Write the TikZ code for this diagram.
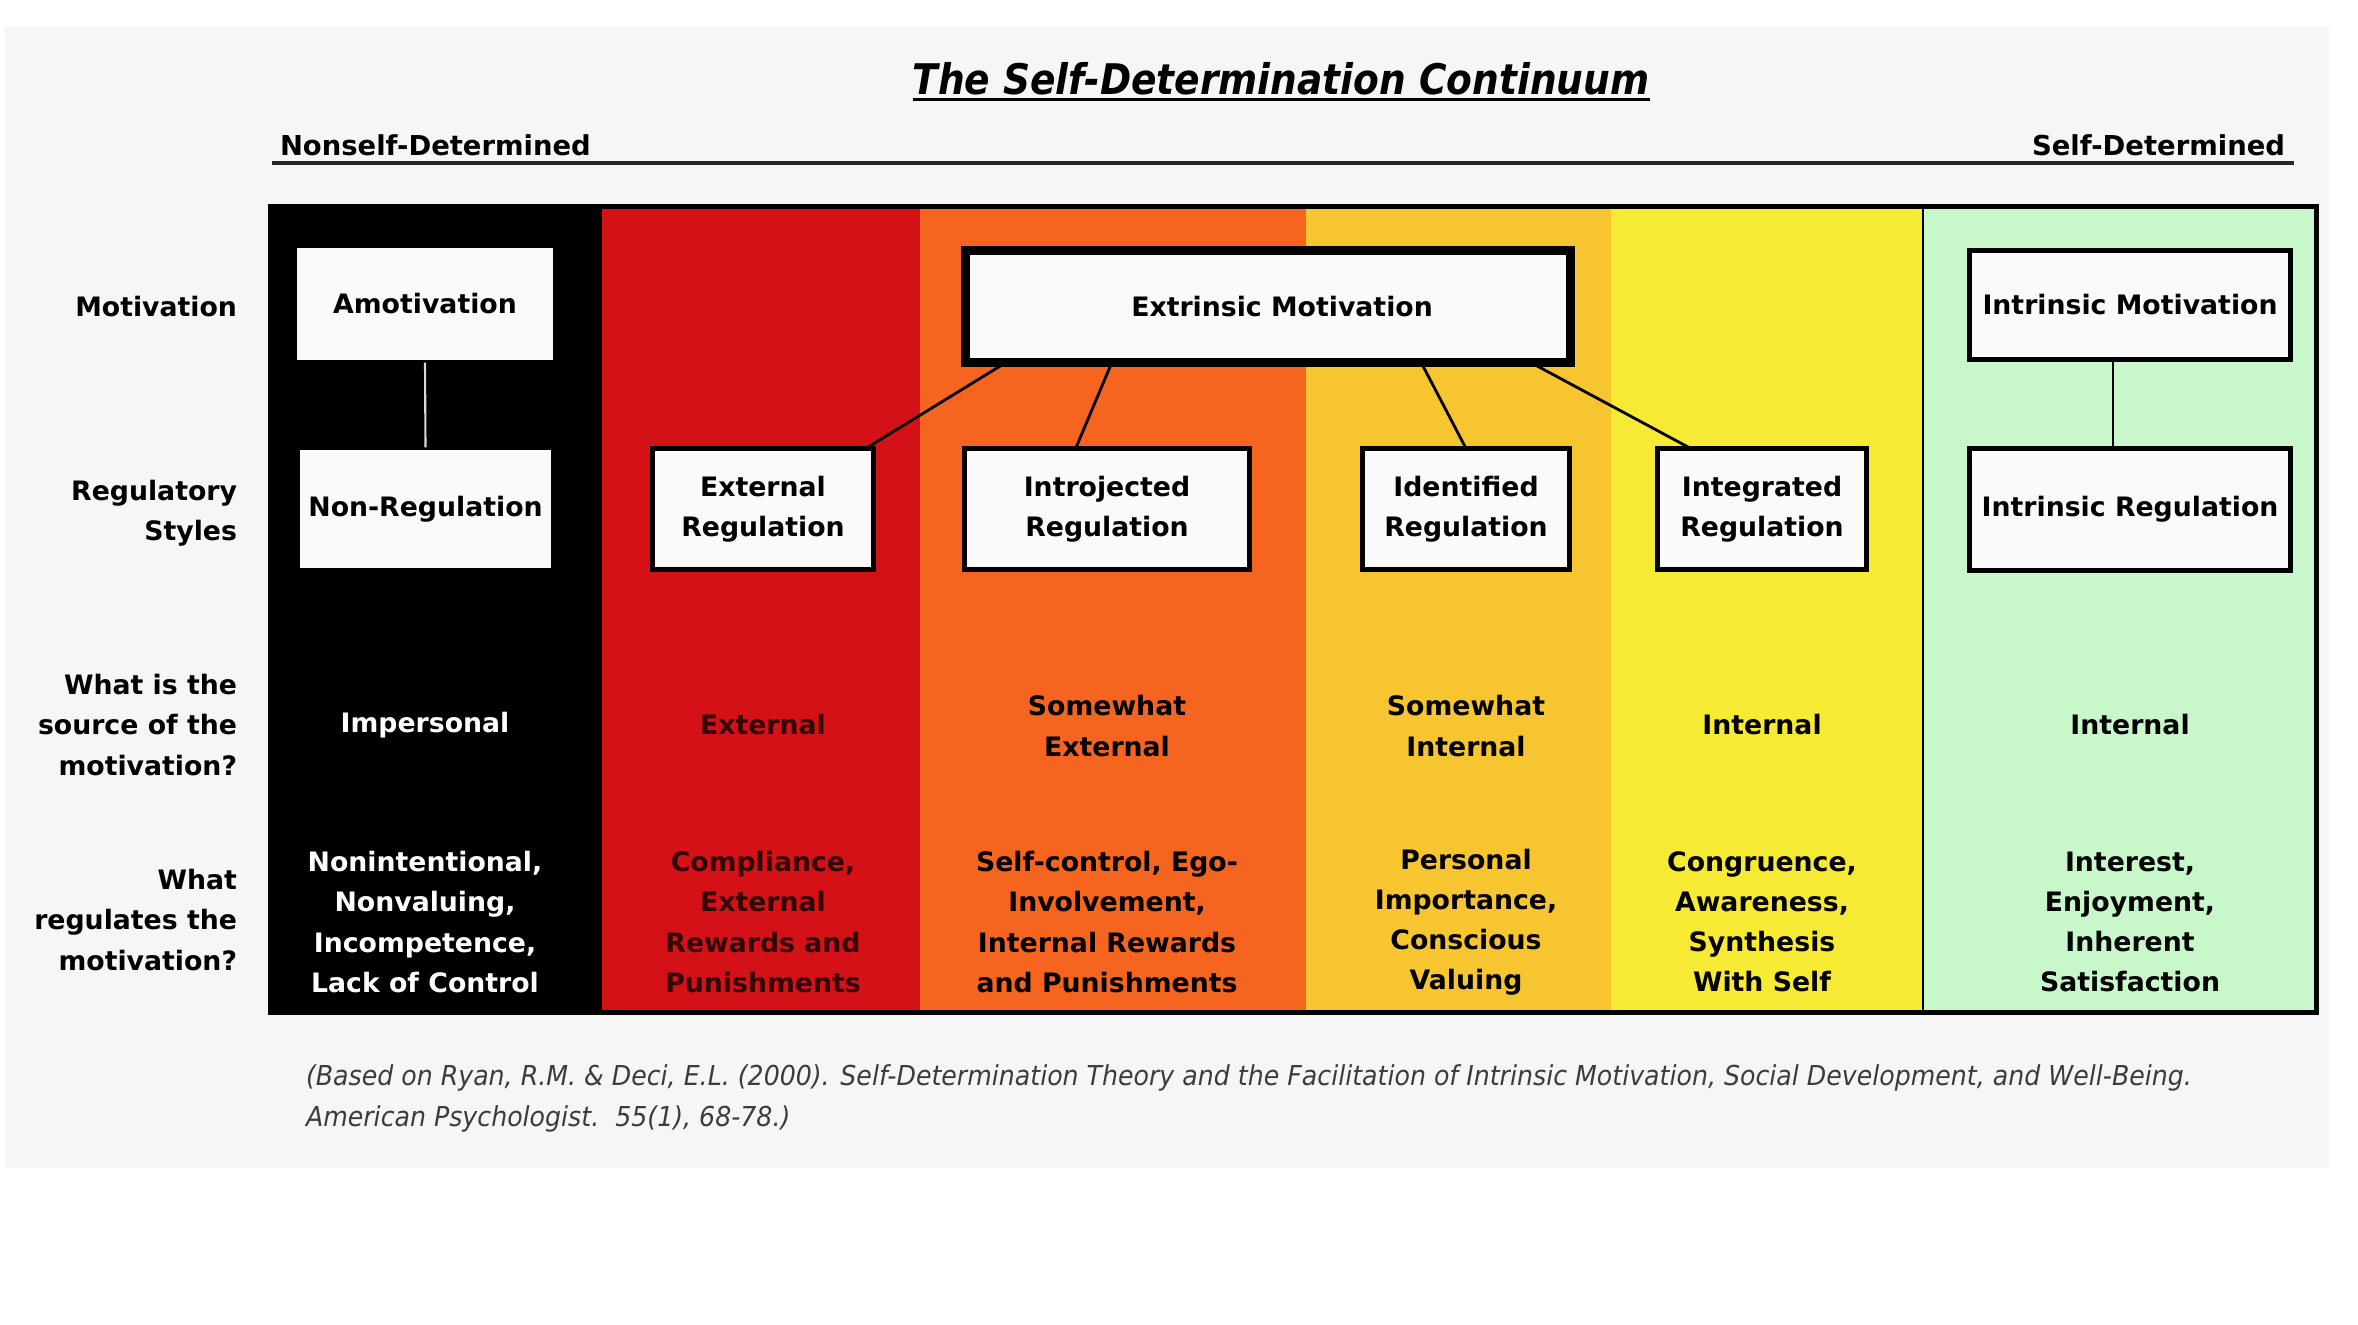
\documentclass[tikz,border=0pt]{standalone}
\usepackage{fontspec}
\setmainfont{DejaVu Sans}
\newfontfamily\titlefont[FakeStretch=0.89]{DejaVu Sans}
\newfontfamily\capfont[FakeStretch=0.92]{DejaVu Sans}
\usetikzlibrary{calc}
\definecolor{panel}{HTML}{F6F6F6}
\definecolor{boxw}{HTML}{FAFAFA}
\definecolor{cred}{HTML}{D41117}
\definecolor{corange}{HTML}{F5651F}
\definecolor{camber}{HTML}{F7C52F}
\definecolor{cyellow}{HTML}{F7EA35}
\definecolor{cgreen}{HTML}{C8F7CA}
\definecolor{darkred}{HTML}{300606}
\definecolor{capgray}{HTML}{3C3C3C}
\begin{document}
\begin{tikzpicture}[x=0.01cm,y=-0.01cm,
  every node/.style={inner sep=0pt, outer sep=0pt},
  body/.style={font=\fontsize{7.6}{11.4}\selectfont\bfseries, align=center},
  toplbl/.style={font=\fontsize{7.8}{11.4}\selectfont\bfseries},
  rowlbl/.style={body, align=right, anchor=east},
  bx/.style={body, draw=black, line width=1.3pt, fill=boxw},
  conn/.style={line width=0.8pt, draw=black}]
\useasboundingbox (0,0) rectangle (2358,1324);
\fill[white] (0,0) rectangle (2358,1324);
\fill[panel] (5,27) rectangle (2329,1168);

% title
\node[anchor=base, font=\titlefont\fontsize{12}{14}\selectfont\bfseries\itshape] (title) at (1281,94) {The Self-Determination Continuum};
\draw[line width=0.85pt] ([yshift=-1.5pt]title.base west) -- ([yshift=-1.5pt]title.base east);

% continuum ends
\node[toplbl, anchor=base west] (nsd) at (280,155) {Nonself-Determined};
\node[toplbl, anchor=base east] (sd) at (2285,155) {Self-Determined};
\coordinate (lineL) at (272,163);
\coordinate (lineR) at (2294,163);
\draw[line width=0.95pt, draw=black!85] (lineL) -- (lineR);

% columns
\fill[black] (268,204) rectangle (602,1015);
\fill[cred] (602,204) rectangle (920,1015);
\fill[corange] (920,204) rectangle (1306,1015);
\fill[camber] (1306,204) rectangle (1611,1015);
\fill[cyellow] (1611,204) rectangle (1923,1015);
\fill[cgreen] (1923,204) rectangle (2319,1015);
\draw[line width=0.6pt] (1923,204) -- (1923,1015);
\draw[line width=1.5pt] (270.5,206.5) rectangle (2316.5,1012.5);

% row labels
\node[rowlbl] (l1) at (237,307) {Motivation};
\node[rowlbl] (l2) at (237,513) {Regulatory\\Styles};
\node[rowlbl] (l3) at (237,725) {What is the\\source of the\\motivation?};
\node[rowlbl] (l4) at (237,920) {What\\regulates the\\motivation?};

% boxes row 1
\node[bx, minimum width=2.61cm, minimum height=1.17cm] (amot) at (425,304) {Amotivation};
\node[bx, line width=2.6pt, minimum width=6.05cm, minimum height=1.12cm] (extm) at (1268,306.5) {\hspace*{0.28cm}Extrinsic Motivation};
\node[bx, minimum width=3.21cm, minimum height=1.09cm] (intm) at (2130,305) {Intrinsic Motivation};

% boxes row 2
\node[bx, minimum width=2.56cm, minimum height=1.23cm] (nonr) at (425.5,509) {Non-Regulation};
\node[bx, minimum width=2.21cm, minimum height=1.21cm] (extr) at (763,509) {External\\Regulation};
\node[bx, minimum width=2.85cm, minimum height=1.21cm] (intro) at (1107,509) {Introjected\\Regulation};
\node[bx, minimum width=2.07cm, minimum height=1.21cm] (ident) at (1466,509) {Identified\\Regulation};
\node[bx, minimum width=2.09cm, minimum height=1.21cm] (integ) at (1762,509) {Integrated\\Regulation};
\node[bx, minimum width=3.21cm, minimum height=1.22cm] (intr) at (2130,509.5) {Intrinsic Regulation};

% connectors
\draw[line width=0.6pt, draw=black!15] (amot.south) -- (nonr.north);
\draw[line width=0.6pt] ($(intm.south west)!0.448!(intm.south east)$) -- ($(intr.north west)!0.448!(intr.north east)$);
\draw[conn] ($(extm.south west)!0.067!(extm.south east)$) -- ($(extr.north west)!0.965!(extr.north east)$);
\draw[conn] ($(extm.south west)!0.242!(extm.south east)$) -- ($(intro.north west)!0.39!(intro.north east)$);
\draw[conn] ($(extm.south west)!0.753!(extm.south east)$) -- ($(ident.north west)!0.50!(ident.north east)$);
\draw[conn] ($(extm.south west)!0.934!(extm.south east)$) -- ($(integ.north west)!0.159!(integ.north east)$);

% source row
\node[body, text=white] (s1) at (425,725) {Impersonal};
\node[body, text=darkred] (s2) at (763,725) {External};
\node[body] (s3) at (1107,726) {Somewhat\\External};
\node[body] (s4) at (1466,726) {Somewhat\\Internal};
\node[body] (s5) at (1762,725) {Internal};
\node[body] (s6) at (2130,725) {Internal};

% regulates row
\node[body, text=white] (r1) at (425,922) {Nonintentional,\\Nonvaluing,\\Incompetence,\\Lack of Control};
\node[body, text=darkred] (r2) at (763,922) {Compliance,\\External\\Rewards and\\Punishments};
\node[body] (r3) at (1107,922) {Self-control, Ego-\\Involvement,\\Internal Rewards\\and Punishments};
\node[body] (r4) at (1466,922) {Personal\\Importance,\\Conscious\\Valuing};
\node[body] (r5) at (1762,922) {Congruence,\\Awareness,\\Synthesis\\With Self};
\node[body] (r6) at (2130,922) {Interest,\\Enjoyment,\\Inherent\\Satisfaction};

% caption
\node[anchor=north west, align=left, text=capgray, font=\capfont\fontsize{7.8}{11.66}\selectfont\itshape] (cap) at (306,1065) {(Based on Ryan, R.M. \& Deci, E.L. (2000). Self-Determination Theory and the Facilitation of Intrinsic Motivation, Social Development, and Well-Being.\\American Psychologist.\ \ 55(1), 68-78.)};
\end{tikzpicture}
\end{document}
